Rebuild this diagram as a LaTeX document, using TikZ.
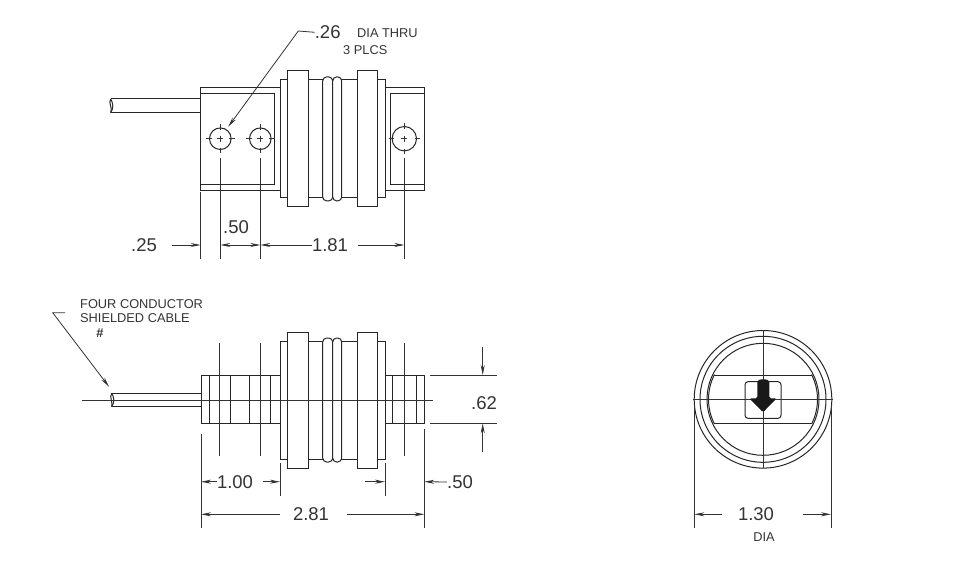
\documentclass[tikz,border=0pt]{standalone}
\usepackage{fontspec}
\setmainfont{Liberation Sans}
\usetikzlibrary{arrows.meta}
\tikzset{
    part/.style={draw=black!85,line width=1pt},
    extline/.style={draw=black!80,line width=.8pt},
    dimline/.style={draw=black!80,line width=.8pt,-{Stealth[length=10pt,width=4pt]}},
    dimtext/.style={inner sep=0pt,text=black!80,font=\fontsize{18.5}{20}\selectfont},
    notetext/.style={inner sep=0pt,text=black!80,font=\fontsize{12.8}{14}\selectfont}
}
\begin{document}
\begin{tikzpicture}[x=1pt,y=-1pt]
    \useasboundingbox (0,0) rectangle (960,575);
    % centre section, same in both side views
    \foreach \cy in {138.9,400} {
        \draw[part] (280,\cy-59) rectangle (385,\cy+59);
        \draw[part,fill=white] (287.7,\cy-68) rectangle (308,\cy+68);
        \draw[part,fill=white] (357,\cy-68) rectangle (377.3,\cy+68);
        \draw[part,fill=white,rounded corners=4] (322.7,\cy-62) rectangle (332.7,\cy+62);
        \draw[part,fill=white,rounded corners=4] (332.7,\cy-62) rectangle (341.7,\cy+62);
    }
    % top view
    \draw[part] (280,87.3) -- (200.7,87.3) -- (200.7,190.3) -- (280,190.3);
    \draw[part] (200.7,93.3) -- (274.3,93.3) -- (274.3,184) -- (200.7,184);
    \draw[part] (385,87.3) -- (424.3,87.3) -- (424.3,190.3) -- (385,190.3);
    \draw[part] (424.3,93.3) -- (390,93.3) -- (390,184) -- (424.3,184);
    \draw[part] (200.7,99) -- (110.7,99) (200.7,112.7) -- (110.7,112.7);
    \draw[part] (110.7,99) .. controls (108,103) and (113,108) .. (110.7,112.7);
    \draw[part] (110.7,99) .. controls (113,103) and (114,108) .. (110.7,112.7);
    \foreach \hx/\hr in {220.3/10.8,260.3/10.8,404.3/12.2} {
        \draw[part] (\hx,138.7) circle (\hr);
        \draw[extline] (\hx-3,138.7) -- (\hx+3,138.7) (\hx,135.7) -- (\hx,141.7);
        \draw[extline] (\hx-\hr-3.5,138.7) -- (\hx-\hr+2,138.7);
        \draw[extline] (\hx+\hr-2,138.7) -- (\hx+\hr+3.5,138.7);
        \draw[extline] (\hx,138.7-\hr-3.5) -- (\hx,138.7-\hr+2);
        \draw[extline] (\hx,138.7+\hr-2) -- (\hx,138.7+\hr+3.5);
    }
    % top view dimensions
    \node[dimtext] (holedia) at (327.7,32.3) {.26};
    \node[notetext,anchor=west] (diathru) at (357,33.5) {DIA THRU};
    \node[notetext,anchor=west] (plcs) at (343,50) {3 PLCS};
    \coordinate (holetip) at (228.3,126.7);
    \draw[dimline] (holedia.west) -- (298.3,31) -- (holetip);
    \draw[extline] (200.7,191.7) -- (200.7,259);
    \foreach \ex in {220.3,260.3,404.3}
        \draw[extline] (\ex,158) -- (\ex,259);
    \node[dimtext] (dimA) at (144,245) {.25};
    \node[dimtext] (dimB) at (236,227.5) {.50};
    \node[dimtext] (dimC) at (330,245) {1.81};
    \coordinate (topA) at (200.7,245);
    \coordinate (topB) at (220.3,245);
    \coordinate (topC) at (260.3,245);
    \coordinate (topD) at (404.3,245);
    \coordinate (topE) at (357.7,245);
    \coordinate (topF) at (171.7,245);
    \draw[dimline] (topF) -- (topA);
    \draw[dimline,{Stealth[length=10pt,width=4pt]}-{Stealth[length=10pt,width=4pt]}] (topB) -- (topC);
    \draw[dimline] (dimC.west) -- (topC);
    \draw[dimline] (topE) -- (topD);
    % front view
    \draw[part] (201,375) rectangle (280,423.3);
    \draw[part] (385,375) rectangle (424.3,423.3);
    \foreach \lx in {209.3,230.3,249.3,270.3,392.7,416.7}
        \draw[part] (\lx,375) -- (\lx,423.3);
    \foreach \ex in {219.7,260,404.3}
        \draw[extline] (\ex,343.3) -- (\ex,455.7);
    \draw[part] (201,393.3) -- (111.7,393.3) (201,406.7) -- (111.7,406.7);
    \draw[part] (111.7,393.3) .. controls (109,397) and (113,402) .. (111.7,406.7);
    \draw[part] (111.7,393.3) .. controls (114,397) and (115,402) .. (111.7,406.7);
    \draw[extline] (81.7,400) -- (432.7,400);
    % front view dimensions
    \node[notetext,anchor=west] (cable) at (80,304.3) {FOUR CONDUCTOR};
    \node[notetext,anchor=west] (shield) at (80,317.7) {SHIELDED CABLE};
    \node[notetext] (hash) at (100,333) {\textbf{\#}};
    \coordinate (cabletip) at (109,386.7);
    \draw[dimline] (65,312.7) -- (52.7,312.7) -- (cabletip);
    \draw[extline] (430,375) -- (496.7,375) (430,423.3) -- (496.7,423.3);
    \node[dimtext] (dimD) at (484,403) {.62};
    \coordinate (wideT) at (482.7,375);
    \coordinate (wideB) at (482.7,423.3);
    \draw[dimline] (482.7,346.7) -- (wideT);
    \draw[dimline] (482.7,451.7) -- (wideB);
    \draw[extline] (201,434) -- (201,528) (424.3,429) -- (424.3,528);
    \draw[extline] (280,463) -- (280,495.7) (385,463) -- (385,495.7);
    \node[dimtext] (dimE) at (235,482) {1.00};
    \node[dimtext] (dimF) at (460,482) {.50};
    \node[dimtext] (dimG) at (311,514.5) {2.81};
    \coordinate (lowA) at (201,481.7);
    \coordinate (lowB) at (280,481.7);
    \coordinate (lowC) at (385,481.7);
    \coordinate (lowD) at (424.3,481.7);
    \coordinate (fullA) at (201,514.3);
    \coordinate (fullB) at (424.3,514.3);
    \draw[dimline] (216.7,481.7) -- (lowA);
    \draw[dimline] (263.3,481.7) -- (lowB);
    \draw[dimline] (365,481.7) -- (lowC);
    \draw[dimline] (dimF.west) -- (lowD);
    \draw[dimline] (280,514.3) -- (fullA);
    \draw[dimline] (346.7,514.3) -- (fullB);
    % end view
    \coordinate (hub) at (763,399.3);
    \draw[part] (hub) circle (68.8);
    \draw[part] (hub) circle (63);
    \draw[part] (hub) circle (56);
    \draw[part] (714.4,375) -- (811.6,375) (714.4,423.6) -- (811.6,423.6);
    \draw[part] (hub) ++(153:54.5) arc[start angle=153,end angle=207,radius=54.5];
    \draw[part] (hub) ++(-27:54.5) arc[start angle=-27,end angle=27,radius=54.5];
    \draw[part,rounded corners=3] (745,381.7) rectangle (781,418.3);
    \draw[extline] (692.7,399.3) -- (833.3,399.3);
    \draw[extline] (763,330) -- (763,468.3);
    \fill[black!90,rounded corners=1.5] (757.3,398.3) -- (757.3,381) -- (760,379.3) -- (766.6,379.3) -- (769.3,381) -- (769.3,398.3) -- (776.7,398.3) -- (763,412.3) -- (749.3,398.3) -- cycle;
    % end view dimension
    \draw[extline] (694.3,405) -- (694.3,528.3) (831,405) -- (831,528.3);
    \node[dimtext] (dimH) at (756,514.3) {1.30};
    \node[notetext] (dimdia) at (764,537.3) {DIA};
    \coordinate (endA) at (694.3,514.3);
    \coordinate (endB) at (831,514.3);
    \draw[dimline] (721.7,514.3) -- (endA);
    \draw[dimline] (803.3,514.3) -- (endB);
\end{tikzpicture}
\end{document}
